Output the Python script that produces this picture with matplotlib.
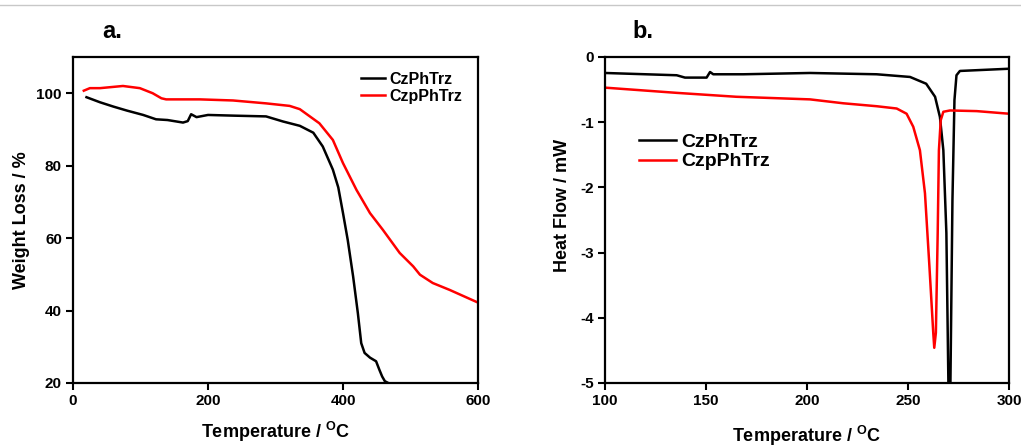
import matplotlib
matplotlib.use("Agg")
import matplotlib.pyplot as plt

plt.rcParams['font.family'] = ['Liberation Sans', 'DejaVu Sans']
plt.rcParams['font.weight'] = 'bold'
plt.rcParams['mathtext.fontset'] = 'custom'
plt.rcParams['mathtext.rm'] = 'Liberation Sans:bold'
plt.rcParams['mathtext.bf'] = 'Liberation Sans:bold'

# ---- Panel a: TGA ----
tga_cz_T = [20, 40, 60, 80, 104, 123, 140, 163, 170, 175, 183, 200, 240, 286, 311, 336, 356, 370,
            385, 393, 400, 407, 415, 422, 427, 432, 440, 449, 454, 458, 462, 467]
tga_cz_W = [98.9, 97.5, 96.3, 95.2, 94.0, 92.8, 92.6, 91.9, 92.3, 94.2, 93.4, 94.0, 93.8, 93.6, 92.2,
            91.0, 89.1, 85.3, 78.9, 74.0, 66.9, 59.5, 49.4, 39.3, 31.0, 28.3, 27.0, 26.0, 23.6, 21.8, 20.5, 20.0]

tga_czp_T = [16, 25, 40, 74, 99, 118, 131, 138, 188, 237, 286, 321, 336, 365, 385, 400, 420, 440,
             459, 484, 504, 514, 533, 558, 600]
tga_czp_W = [100.7, 101.4, 101.4, 102.0, 101.4, 100.0, 98.6, 98.3, 98.3, 98.0, 97.2, 96.5, 95.6, 91.7,
             87.1, 80.7, 73.3, 66.9, 62.3, 55.9, 52.2, 49.9, 47.6, 45.7, 42.2]

# ---- Panel b: DSC ----
dsc_cz_T = [100, 135.5, 139.6, 150.3, 152, 153.6, 168.5, 201.5, 234.5, 251, 259, 263.4, 265.8, 267.5,
            269, 270, 270.5, 271, 272, 273, 274, 275.7, 300]
dsc_cz_H = [-0.245, -0.28, -0.316, -0.316, -0.23, -0.265, -0.265, -0.245, -0.265, -0.306, -0.41, -0.61,
            -0.92, -1.43, -2.7, -5.0, -5.6, -5.0, -2.2, -0.66, -0.28, -0.214, -0.18]

dsc_czp_T = [100, 135.5, 165, 201.5, 218, 234.5, 244.4, 249.3, 252.6, 255.9, 258.4, 260.6, 262.5, 263,
             263.8, 264.7, 265.3, 266.2, 267.5, 270.8, 284, 300]
dsc_czp_H = [-0.47, -0.55, -0.61, -0.65, -0.71, -0.755, -0.79, -0.87, -1.07, -1.43, -2.09, -3.21, -4.23,
             -4.46, -4.23, -2.7, -1.43, -0.97, -0.84, -0.82, -0.83, -0.87]

labels = ['CzPhTrz', 'CzpPhTrz']
colors = ['#000000', '#ff0000']
xlabel = r'Temperature / $^{\mathrm{O}}$C'

W, H = 1021, 446
fig = plt.figure(figsize=(W / 100, H / 100), dpi=100)

def rect(x0, y0, x1, y1):
    return [x0 / W, 1 - y1 / H, (x1 - x0) / W, (y1 - y0) / H]

axa = fig.add_axes(rect(73, 57, 478, 383))
axb = fig.add_axes(rect(605, 57, 1009, 383))

axa.plot(tga_cz_T, tga_cz_W, color=colors[0], lw=1.8, label=labels[0])
axa.plot(tga_czp_T, tga_czp_W, color=colors[1], lw=1.8, label=labels[1])
axa.set_xlim(0, 600)
axa.set_ylim(20, 110)
axa.set_xticks([0, 200, 400, 600])
axa.set_yticks([20, 40, 60, 80, 100])
axa.set_ylabel('Weight Loss / %', fontsize=13, fontweight='bold')
axa.yaxis.set_label_coords(-0.106, 0.5)
axa.legend(frameon=False, loc='upper left', bbox_to_anchor=(0.695, 0.975), fontsize=11.5,
           handlelength=1.5, handletextpad=0.3, labelspacing=0.15, borderaxespad=0)

axb.plot(dsc_cz_T, dsc_cz_H, color=colors[0], lw=1.8, label=labels[0])
axb.plot(dsc_czp_T, dsc_czp_H, color=colors[1], lw=1.8, label=labels[1])
axb.set_xlim(100, 300)
axb.set_ylim(-5, 0)
axb.set_xticks([100, 150, 200, 250, 300])
axb.set_yticks([-5, -4, -3, -2, -1, 0])
axb.set_yticklabels(['-5', '-4', '-3', '-2', '-1', '0'])
axb.set_ylabel('Heat Flow / mW', fontsize=13, fontweight='bold')
axb.yaxis.set_label_coords(-0.085, 0.546)
axb.legend(frameon=False, loc='upper left', bbox_to_anchor=(0.065, 0.79), fontsize=14,
           handlelength=1.9, handletextpad=0.25, labelspacing=0.1, borderaxespad=0)

for ax in (axa, axb):
    for s in ax.spines.values():
        s.set_linewidth(1.6)
    ax.tick_params(direction='out', length=5, width=1.5, labelsize=11, pad=3)
    for t in ax.get_xticklabels() + ax.get_yticklabels():
        t.set_fontweight('bold')

fig.text(275.5 / W, 1 - 438 / H, xlabel, fontsize=13, fontweight='bold', ha='center', va='baseline')
fig.text(807 / W, 1 - 442 / H, xlabel, fontsize=13, fontweight='bold', ha='center', va='baseline')

fig.text(102 / W, 1 - 31 / H, 'a.', fontsize=17, fontweight='bold', va='center', ha='left')
fig.text(632 / W, 1 - 31 / H, 'b.', fontsize=17, fontweight='bold', va='center', ha='left')

fig.add_artist(plt.Line2D([0, 1], [1 - 4.5 / H, 1 - 4.5 / H], transform=fig.transFigure,
                          color='#c8c8c8', lw=1))

fig.savefig('out.png', dpi=100)
